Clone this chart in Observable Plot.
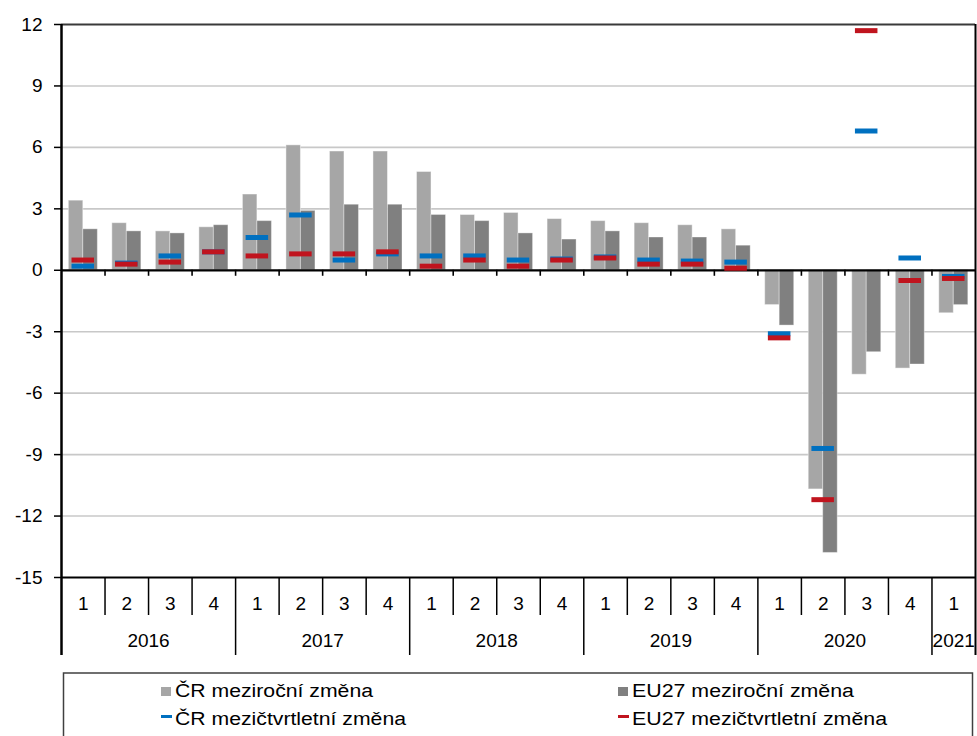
<!DOCTYPE html>
<html>
<head>
<meta charset="utf-8">
<script src="https://cdn.jsdelivr.net/npm/d3@7"></script>
<script src="https://cdn.jsdelivr.net/npm/@observablehq/plot@0.6"></script>
<style>
  body { margin: 0; background: #fff; font-family: "Liberation Sans", Arial, sans-serif; }
  #chart { position: relative; width: 977px; height: 736px; overflow: hidden; background: #fff; }
  #chart svg { display: block; }
</style>
</head>
<body>
<div id="chart"></div>
<script>
// ---- data ----
const years = ["2016", "2017", "2018", "2019", "2020", "2021"];
const quartersPerYear = [4, 4, 4, 4, 4, 1];
const quarterLabels = ["1","2","3","4","1","2","3","4","1","2","3","4","1","2","3","4","1","2","3","4","1"];
const crYoY = [3.4, 2.3, 1.9, 2.1, 3.7, 6.1, 5.8, 5.8, 4.8, 2.7, 2.8, 2.5, 2.4, 2.3, 2.2, 2.0, -1.7, -10.7, -5.1, -4.8, -2.1];
const euYoY = [2.0, 1.9, 1.8, 2.2, 2.4, 2.9, 3.2, 3.2, 2.7, 2.4, 1.8, 1.5, 1.9, 1.6, 1.6, 1.2, -2.7, -13.8, -4.0, -4.6, -1.7];
const crQoQ = [0.2, 0.35, 0.7, 0.9, 1.6, 2.7, 0.5, 0.8, 0.7, 0.7, 0.5, 0.55, 0.65, 0.5, 0.45, 0.4, -3.1, -8.7, 6.8, 0.6, -0.3];
const euQoQ = [0.5, 0.3, 0.4, 0.9, 0.7, 0.8, 0.8, 0.9, 0.2, 0.5, 0.2, 0.5, 0.6, 0.3, 0.3, 0.1, -3.3, -11.2, 11.7, -0.5, -0.4];
const yTicks = [-15, -12, -9, -6, -3, 0, 3, 6, 9, 12];
const legendLabels = ["ČR meziroční změna", "EU27 meziroční změna", "ČR mezičtvrtletní změna", "EU27 mezičtvrtletní změna"];

// ---- derived tables ----
const n = quarterLabels.length;
const data = quarterLabels.map((q, i) => ({i, q, cr: crYoY[i], eu: euYoY[i], crq: crQoQ[i], euq: euQoQ[i]}));
const yearSpans = [];
{ let s = 0; years.forEach((y, k) => { yearSpans.push({year: y, start: s, end: s + quartersPerYear[k]}); s += quartersPerYear[k]; }); }
const yearBounds = [0, ...yearSpans.map(d => d.end)];
const innerBounds = d3.range(1, n);
const quarterSeps = innerBounds.filter(b => !yearBounds.includes(b));
const gridTicks = yTicks.filter(t => t !== 0 && t !== -15 && t !== 12);

const C_CR = "#a6a6a6", C_EU = "#808080", C_CRQ = "#0070c0", C_EUQ = "#c0141e";
const FONT = "'Liberation Sans', Arial, sans-serif";

const plot = Plot.plot({
  width: 977,
  height: 660,
  marginLeft: 61,
  marginRight: 2,
  marginTop: 24,
  marginBottom: 83,
  x: {domain: [0, n], axis: null},
  y: {domain: [-15, 12], axis: null},
  style: {fontFamily: FONT, fontSize: "19px", color: "black", background: "white", overflow: "visible"},
  marks: [
    Plot.ruleY(gridTicks, {stroke: "#c8c8c8", strokeWidth: 1.6}),
    Plot.rect(data, {x1: "i", x2: d => d.i + 1, y1: 0, y2: "cr", insetLeft: 7.3, insetRight: 21.7,
      fill: C_CR, stroke: "white", strokeOpacity: 0.45, strokeWidth: 1}),
    Plot.rect(data, {x1: "i", x2: d => d.i + 1, y1: 0, y2: "eu", insetLeft: 21.8, insetRight: 7.2,
      fill: C_EU, stroke: "white", strokeOpacity: 0.35, strokeWidth: 1}),
    Plot.ruleY([0], {stroke: "black", strokeWidth: 2.2}),
    Plot.ruleX(innerBounds, {x: d => d, y1: 0, y2: 0, insetBottom: -6, stroke: "black", strokeWidth: 1.6}),
    Plot.ruleY(data, {x1: "i", x2: d => d.i + 1, y: "crq", insetLeft: 10.5, insetRight: 10.5, stroke: C_CRQ, strokeWidth: 5}),
    Plot.ruleY(data, {x1: "i", x2: d => d.i + 1, y: "euq", insetLeft: 10.5, insetRight: 10.5, stroke: C_EUQ, strokeWidth: 5}),
    // frame
    Plot.ruleY([12], {stroke: "#3a3a3a", strokeWidth: 2.2}),
    Plot.ruleY([-15], {stroke: "black", strokeWidth: 2}),
    Plot.ruleX([0], {y1: 12, y2: -15, insetBottom: -78, stroke: "black", strokeWidth: 2.5}),
    Plot.ruleX([n], {y1: 12, y2: -15, insetBottom: -78, stroke: "black", strokeWidth: 2}),
    // category separators
    Plot.ruleX(quarterSeps, {x: d => d, y1: -15, y2: -15, insetBottom: -38, stroke: "black", strokeWidth: 1.5}),
    Plot.ruleX(yearBounds.slice(1, -1), {x: d => d, y1: -15, y2: -15, insetBottom: -78, stroke: "black", strokeWidth: 1.5}),
    // y axis
    Plot.axisY(yTicks, {tickSize: 7, tickPadding: 12, tickFormat: d => String(d), fontSize: 19, strokeWidth: 1.5, fill: "black"}),
    // quarter labels
    Plot.text(data, {x: d => d.i + 0.5, text: "q", frameAnchor: "bottom", dy: 26, lineAnchor: "middle", fontSize: 19, fill: "black"}),
    // year labels
    Plot.text(yearSpans, {x: d => (d.start + d.end) / 2, text: "year", frameAnchor: "bottom", dy: 63, lineAnchor: "middle", fontSize: 19, fill: "black"})
  ]
});

const chart = document.getElementById("chart");
chart.appendChild(plot);

// ---- legend (below the SVG) ----
const lg = d3.select(chart).append("svg")
  .attr("width", 977).attr("height", 76)
  .style("font-family", FONT);
lg.append("rect").attr("x", 63.5).attr("y", 13).attr("width", 909).attr("height", 90)
  .attr("fill", "white").attr("stroke", "#404040").attr("stroke-width", 1.5);
const items = [
  {label: legendLabels[0], type: "box", color: C_CR, x: 161, y: 37, len: 198},
  {label: legendLabels[1], type: "box", color: C_EU, x: 618, y: 37, len: 222},
  {label: legendLabels[2], type: "dash", color: C_CRQ, x: 161, y: 65, len: 231},
  {label: legendLabels[3], type: "dash", color: C_EUQ, x: 618, y: 65, len: 255}
];
items.forEach(it => {
  if (it.type === "box") {
    lg.append("rect").attr("x", it.x).attr("y", it.y - 10).attr("width", 10).attr("height", 9).attr("fill", it.color);
  } else {
    lg.append("rect").attr("x", it.x).attr("y", it.y - 10).attr("width", 11).attr("height", 3).attr("fill", it.color);
  }
  lg.append("text").attr("x", it.x + 14).attr("y", it.y)
    .attr("font-size", 18).attr("fill", "black")
    .attr("textLength", it.len).attr("lengthAdjust", "spacingAndGlyphs")
    .text(it.label);
});
</script>
</body>
</html>
